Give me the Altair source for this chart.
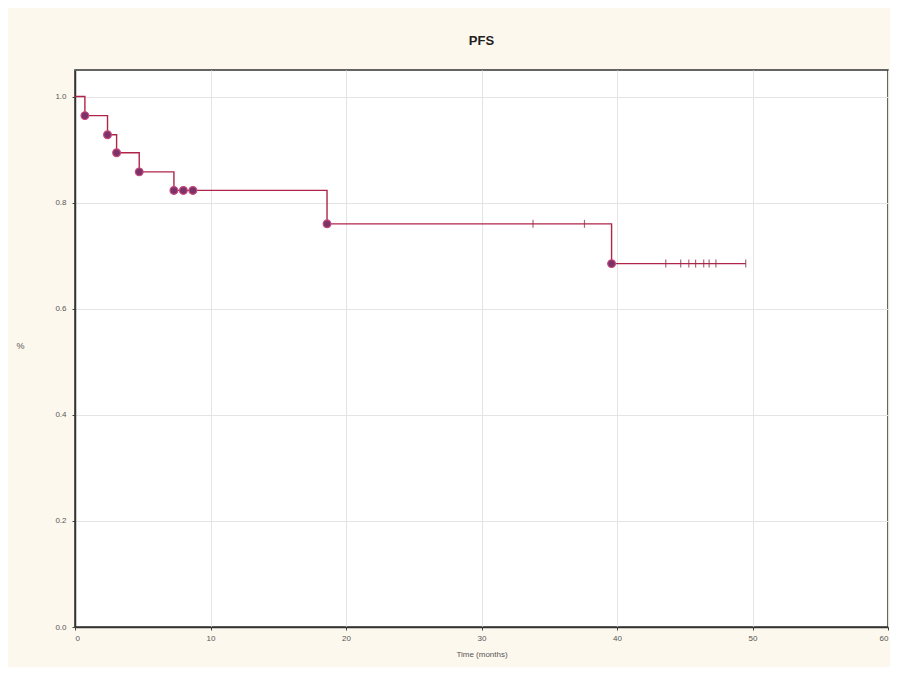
import altair as alt
import pandas as pd

# Kaplan-Meier step curve (time in months, survival proportion)
step_t = [0, 0.73, 2.4, 3.07, 4.74, 7.3, 18.6, 39.6, 49.5]
step_s = [1.0, 0.964, 0.928, 0.894, 0.858, 0.823, 0.760, 0.685, 0.685]

# Complete (event) markers
event_t = [0.73, 2.4, 3.07, 4.74, 7.3, 8.0, 8.7, 18.6, 39.6]
event_s = [0.964, 0.928, 0.894, 0.858, 0.823, 0.823, 0.823, 0.760, 0.685]

# Censored markers
cens_t = [33.8, 37.6, 43.6, 44.7, 45.3, 45.8, 46.4, 46.8, 47.3, 49.5]
cens_s = [0.760, 0.760, 0.685, 0.685, 0.685, 0.685, 0.685, 0.685, 0.685, 0.685]

x_ticks = [0, 10, 20, 30, 40, 50, 60]
y_ticks = [0.0, 0.2, 0.4, 0.6, 0.8, 1.0]

step_df = pd.DataFrame({"t": step_t, "s": step_s})
event_df = pd.DataFrame({"t": event_t, "s": event_s})
cens_df = pd.DataFrame({"t": cens_t, "s": cens_s})

x_scale = alt.Scale(domain=[0, 60], nice=False, zero=False)
y_scale = alt.Scale(domain=[0, 1.05], nice=False)

x_axis = alt.Axis(values=x_ticks, title="Time (months)", format="d",
                  grid=True, gridColor="#e4e4e4", tickSize=3, tickColor="#444",
                  domain=True, domainColor="#333", domainWidth=1.5,
                  labelFontSize=8, labelColor="#555", labelFont="Liberation Sans",
                  titleFontSize=8, titleFontWeight="normal", titleColor="#555",
                  titleFont="Liberation Sans", titlePadding=8, labelPadding=4)
y_axis = alt.Axis(values=y_ticks, title="%", format=".1f",
                  grid=True, gridColor="#e4e4e4", tickSize=3, tickColor="#444",
                  domain=True, domainColor="#333", domainWidth=1.5,
                  labelFontSize=8, labelColor="#555", labelFont="Liberation Sans",
                  titleFontSize=9, titleFontWeight="normal", titleColor="#555",
                  titleFont="Liberation Sans",
                  titleX=-55, titleY=280, titleAngle=0, labelPadding=6)

line = alt.Chart(step_df).mark_line(interpolate="step-after", color="#b0244a",
                                    strokeWidth=1.4).encode(
    x=alt.X("t:Q", scale=x_scale, axis=x_axis),
    y=alt.Y("s:Q", scale=y_scale, axis=y_axis),
)

events = alt.Chart(event_df).mark_point(shape="circle", filled=True, size=60,
                                         color="#7a3268", stroke="#c8487a",
                                         strokeWidth=1.2, opacity=1).encode(
    x=alt.X("t:Q", scale=x_scale),
    y=alt.Y("s:Q", scale=y_scale),
)

cens = alt.Chart(cens_df).mark_tick(orient="vertical", size=8, thickness=1.2,
                                    color="#8a2a40").encode(
    x=alt.X("t:Q", scale=x_scale),
    y=alt.Y("s:Q", scale=y_scale),
)

chart = (line + events + cens).properties(
    width=813,
    height=557,
    title=alt.TitleParams("PFS", fontSize=13, fontWeight="bold", color="#222",
                          font="Liberation Sans", anchor="middle", offset=22),
    autosize=alt.AutoSizeParams(type="none"),
    padding={"left": 67, "top": 62, "right": 2, "bottom": 40},
    background="#fdf8ee",
).configure_view(
    fill="white", stroke="#333", strokeWidth=1.5
)

chart.save("out.html", embed_options={"renderer": "svg", "actions": False})
